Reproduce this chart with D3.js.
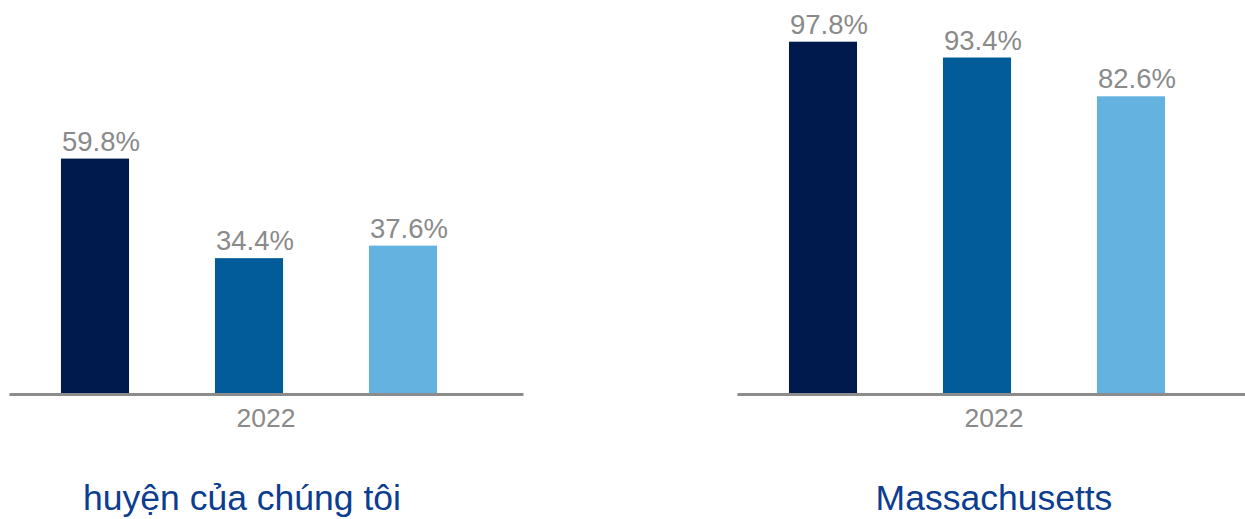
<!DOCTYPE html>
<html>
<head>
<meta charset="utf-8">
<script src="https://cdn.jsdelivr.net/npm/d3@7"></script>
<style>
  html, body { margin: 0; padding: 0; background: #fff; }
  svg { display: block; font-family: "Liberation Sans", Arial, sans-serif; }
</style>
</head>
<body>
<svg id="chart" width="1245" height="519"></svg>
<script>
// Panel titles, category and bar values (percent)
const regions = ["huyện của chúng tôi", "Massachusetts"];
const years = ["2022"];
const seriesKeys = ["s1", "s2", "s3"];
const districtValues = [59.8, 34.4, 37.6];
const stateValues = [97.8, 93.4, 82.6];
const yMax = [70, 100];

const barColors = ["#011a4d", "#035c9a", "#64b2df"];
const labelGray = "#8a8a8a";
const titleBlue = "#0c3d8f";

const svg = d3.select("#chart");
const baseline = 393;

// per-panel layout
const panels = [
  { name: regions[0], values: districtValues, max: yMax[0], pxPer: 3.92,
    axis: [9, 523], bars: [18, 480], titleX: 242 },
  { name: regions[1], values: stateValues, max: yMax[1], pxPer: 3.592,
    axis: [737, 1251], bars: [746, 1208], titleX: 994 }
];

panels.forEach(p => {
  const g = svg.append("g");

  const y = d3.scaleLinear()
    .domain([0, p.max])
    .range([baseline, baseline - p.max * p.pxPer]);

  const xBar = d3.scaleBand()
    .domain(seriesKeys)
    .range(p.bars)
    .paddingInner(0.558)
    .paddingOuter(0.279);

  const data = seriesKeys.map((k, i) => ({ key: k, value: p.values[i], color: barColors[i] }));

  g.selectAll("rect.bar")
    .data(data)
    .join("rect")
    .attr("class", "bar")
    .attr("x", d => xBar(d.key))
    .attr("width", xBar.bandwidth())
    .attr("y", d => y(d.value))
    .attr("height", d => baseline - y(d.value))
    .attr("fill", d => d.color);

  g.selectAll("text.val")
    .data(data)
    .join("text")
    .attr("class", "val")
    .attr("x", d => xBar(d.key) + xBar.bandwidth() / 2 + 6)
    .attr("y", d => y(d.value) - 8)
    .attr("text-anchor", "middle")
    .attr("font-size", 27.5)
    .attr("fill", labelGray)
    .text(d => d.value.toFixed(1) + "%");

  // category axis
  const xCat = d3.scaleBand().domain(years).range(p.axis);
  const ax = g.append("g")
    .attr("transform", `translate(0,${baseline + 1})`)
    .call(d3.axisBottom(xCat).tickSize(0).tickSizeOuter(0));
  ax.select(".domain").attr("stroke", "#8c8c8c").attr("stroke-width", 3);
  ax.selectAll("text")
    .attr("y", 33)
    .attr("dy", 0)
    .attr("font-size", 26.5)
    .attr("font-family", "Liberation Sans, Arial, sans-serif")
    .attr("fill", labelGray);

  // panel title
  g.append("text")
    .attr("x", p.titleX)
    .attr("y", 510)
    .attr("text-anchor", "middle")
    .attr("font-size", 35.5)
    .attr("fill", titleBlue)
    .text(p.name);
});
</script>
</body>
</html>
